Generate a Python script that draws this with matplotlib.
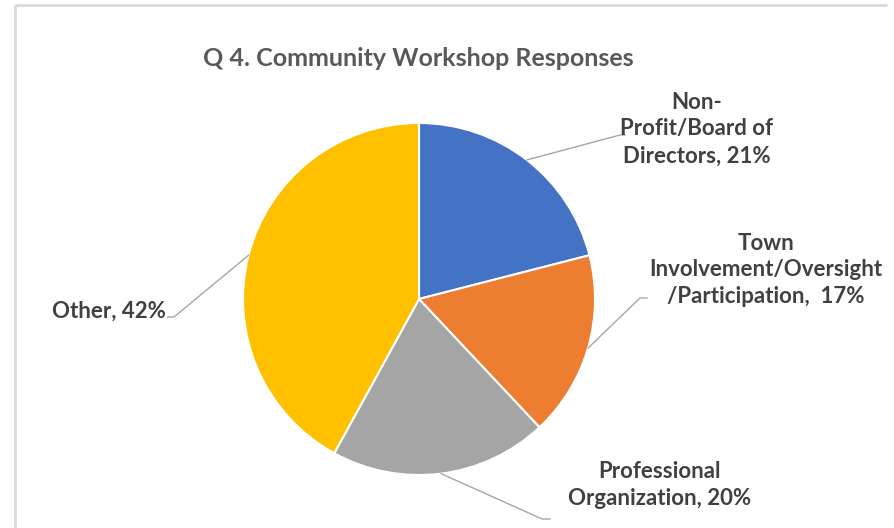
import numpy as np
import matplotlib
matplotlib.use("Agg")
import matplotlib.pyplot as plt

# survey answers, clockwise from 12 o'clock
labels = ["Non-\nProfit/Board of\nDirectors", "Town\nInvolvement/Oversight\n/Participation",
          "Professional\nOrganization", "Other"]
shares = [21, 17, 20, 42]
suffix = [", 21%", ",  17%", ", 20%", ", 42%"]
colors = ["#4472C4", "#ED7D31", "#A5A5A5", "#FFC000"]

W, H = 895, 528
plt.rcParams['font.family'] = ['Lato', 'DejaVu Sans']

fig = plt.figure(figsize=(W / 100, H / 100), dpi=100)
ax = fig.add_axes([0, 0, 1, 1])

cx, cy, r = 419, H - 299, 176
wedges, _ = ax.pie(shares, colors=colors, startangle=90, counterclock=False,
                   center=(cx, cy), radius=r,
                   wedgeprops=dict(edgecolor="white", linewidth=1.5))
ax.set_xlim(0, W)
ax.set_ylim(0, H)
ax.set_aspect("equal")
ax.axis("off")

# chart frame (top and left edges only are visible)
ax.plot([15, 887], [H - 5, H - 5], color="#D9D9D9", lw=2, solid_capstyle="butt")
ax.plot([15, 15], [H - 5, 0], color="#D9D9D9", lw=2, solid_capstyle="butt")

ax.text(418, H - 58, "Q 4. Community Workshop Responses", ha="center", va="center",
        fontsize=18, fontweight="bold", color="#595959")

# leader-line elbows/ends and label anchors (pixels from top-left)
elbows = [(620, 135), (640, 298), (542, 519), (174, 317)]
ends = [(625, 135), (647, 298), (550, 519), (168, 317)]
text_pos = [(697, 129), (766, 270), (660, 485), (166, 311)]
aligns = ["center", "center", "center", "right"]

for w, lab, suf, el, en, tp, al in zip(wedges, labels, suffix, elbows, ends, text_pos, aligns):
    mid = np.deg2rad((w.theta1 + w.theta2) / 2)
    sx, sy = cx + r * np.cos(mid), cy + r * np.sin(mid)
    ax.plot([sx, el[0], en[0]], [sy, H - el[1], H - en[1]], color="#A6A6A6", lw=1)
    ax.text(tp[0], H - tp[1], lab + suf, ha=al, va="center", multialignment="center",
            fontsize=16, fontweight="bold", color="#404040", linespacing=1.35)

fig.savefig("out.png", dpi=100, facecolor="white")
